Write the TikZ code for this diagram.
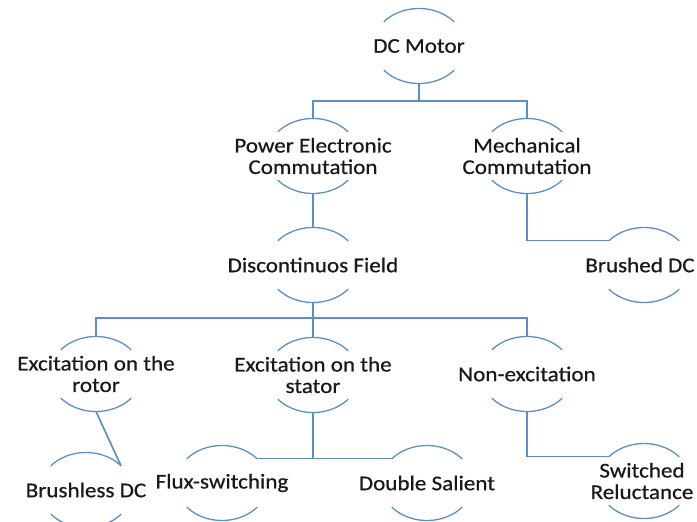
\documentclass[tikz,border=0pt]{standalone}
\usepackage{fontspec}
\setmainfont{Carlito}[FakeStretch=1.1, FakeBold=0.6]
\usetikzlibrary{shapes.geometric}
\definecolor{lineblue}{RGB}{91,143,199}
\tikzset{
  mnode/.style={ellipse, minimum width=92pt, minimum height=75pt, inner sep=0pt, outer sep=0pt},
  mtext/.style={align=center, inner sep=0pt, font=\fontsize{21}{21.5}\selectfont, text=black!90},
  conn/.style={draw=lineblue, line width=1.7pt},
  arcline/.style={draw=lineblue, line width=1.3pt}
}
\newcommand\ovalarcs[1]{%
  \draw[arcline] (#1.center) ++(40:46pt and 37.5pt) arc[start angle=40,end angle=140,x radius=46pt,y radius=37.5pt];
  \draw[arcline] (#1.center) ++(220:46pt and 37.5pt) arc[start angle=220,end angle=320,x radius=46pt,y radius=37.5pt];}
\begin{document}
\begin{tikzpicture}[x=1pt,y=-1pt]
\useasboundingbox (0,0) rectangle (697,522);
\node[mnode, label={[mtext]center:DC Motor}] (dc) at (419,46) {};
\node[mnode, label={[mtext]center:Power Electronic\\Commutation}] (pe) at (313,156) {};
\node[mnode, label={[mtext]center:Mechanical\\Commutation}] (mc) at (527,156) {};
\node[mnode, label={[mtext]center:Discontinuos Field}] (df) at (313,265) {};
\node[mnode, label={[mtext, xshift=-4pt]center:Brushed DC}] (bd) at (644,265) {};
\node[mnode, label={[mtext]center:Excitation on the\\rotor}] (er) at (96,374) {};
\node[mnode, label={[mtext]center:Excitation on the\\stator}] (es) at (313,375) {};
\node[mnode, label={[mtext]center:Non-excitation}] (ne) at (527,374) {};
\node[mnode, label={[mtext]center:Brushless DC}] (bl) at (86,490) {};
\node[mnode, label={[mtext]center:Flux-switching}] (fs) at (222,483) {};
\node[mnode, label={[mtext]center:Double Salient}] (ds) at (427,483) {};
\node[mnode, label={[mtext, xshift=-2pt]center:Switched\\Reluctance}] (sr) at (644,481) {};
\foreach \n in {dc,pe,mc,df,bd,er,es,ne,bl,fs,ds,sr}{\ovalarcs{\n}}
\coordinate (j1) at (419,101);
\coordinate (j2) at (313,318);
\coordinate (j3) at (313,458);
\draw[conn] (dc.south) -- (j1);
\draw[conn] (pe.north) |- (j1) -| (mc.north);
\draw[conn] (pe.south) -- (df.north);
\draw[conn] (mc.south) |- (bd.145);
\draw[conn] (df.south) -- (j2);
\draw[conn] (er.north) |- (j2) -| (ne.north);
\draw[conn] (j2) -- (es.north);
\draw[conn] (er.south) -- (bl.35);
\draw[conn] (es.south) -- (j3);
\draw[conn] (fs.35) -- (ds.145);
\draw[conn] (ne.south) |- (sr.145);
\end{tikzpicture}
\end{document}
